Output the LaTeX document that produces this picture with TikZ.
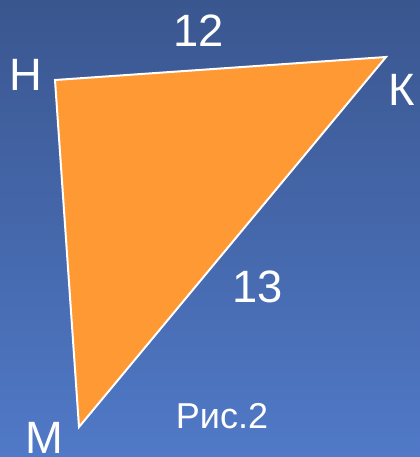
\documentclass[tikz,border=0pt]{standalone}
\usepackage{fontspec}
\setmainfont{Liberation Sans}
\usepackage{xcolor}
\definecolor{bgtop}{RGB}{58, 86, 143}
\definecolor{bgbottom}{RGB}{80, 121, 199}
\definecolor{trianglecolor}{RGB}{255, 153, 51}

\begin{document}
\begin{tikzpicture}[x=0.75pt, y=-0.75pt,
    vertexlabel/.style={text=white, inner sep=0pt, font=\fontsize{34}{34}\selectfont},
    sidelabel/.style={text=white, inner sep=0pt, font=\fontsize{34}{34}\selectfont},
    caption/.style={text=white, inner sep=0pt, font=\fontsize{27}{27}\selectfont},
    triangle/.style={draw=white, line width=1.5pt, fill=trianglecolor, line join=miter}
]

% Background
\shade[top color=bgtop, bottom color=bgbottom] (0,0) rectangle (420,457);
\useasboundingbox (0,0) rectangle (420,457);

% Vertices
\coordinate (H) at (55,80);
\coordinate (K) at (386,57);
\coordinate (M) at (79,427);

% Triangle
\draw[triangle] (H) -- (K) -- (M) -- cycle;

% Vertex labels
\node[vertexlabel] (labH) at (26,75) {Н};
\node[vertexlabel] (labK) at (402,90) {К};
\node[vertexlabel] (labM) at (44,438) {М};

% Side lengths
\node[sidelabel] (side12) at (199,31) {12};
\node[sidelabel] (side13) at (258,287) {13};

% Caption
\node[caption] (fig) at (222,416) {Рис.2};

\end{tikzpicture}
\end{document}
